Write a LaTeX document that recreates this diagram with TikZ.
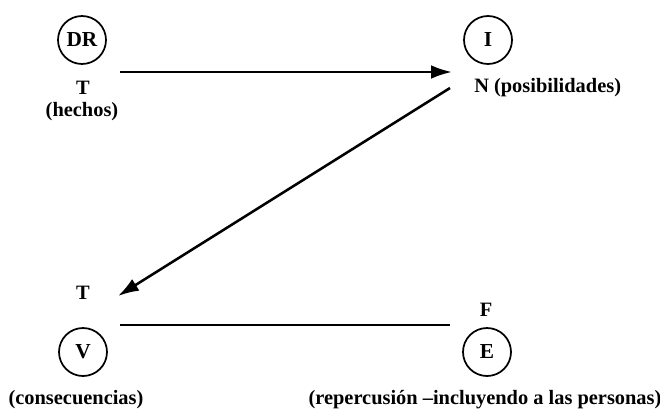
\documentclass[tikz,border=0pt]{standalone}
\usepackage{fontspec}
\setmainfont{Liberation Serif}
\usepackage{tikz}
\usetikzlibrary{positioning,arrows.meta}

\begin{document}
\begin{tikzpicture}[
  x=0.75pt, y=-0.75pt,
  % circled letters and the plain labels around them
  circ/.style={circle, draw, line width=1.3pt, minimum size=36pt, inner sep=0pt,
               font=\bfseries\fontsize{16}{18}\selectfont},
  lbl/.style={inner sep=0pt, font=\bfseries\fontsize{15.3}{18}\selectfont},
  arr/.style={-{Latex[length=5.5mm, width=3.6mm]}, line width=1.9pt},
  link/.style={line width=1.9pt}
]
\useasboundingbox (0,0) rectangle (660,411);

\node[circ] (dr) at (82,40) {DR};
\node[lbl] (drT) at (83,88) {T};
\node[lbl] (hechos) at (82,112) {(hechos)};

\node[circ] (i) at (488,40) {I};
\node[lbl, anchor=west] (posib) at (474,88) {N (posibilidades)};

\node[circ] (v) at (83,352) {V};
\node[lbl] (vT) at (83,293) {T};
\node[lbl] (consec) at (76,400) {(consecuencias)};

\node[circ] (e) at (487,352) {E};
\node[lbl] (eF) at (486,310) {F};
\node[lbl] (reperc) at (485,400) {(repercusión –incluyendo a las personas)};

\draw[arr] ([shift={(38,32)}]dr.center) -- ([shift={(-36,32)}]i.center);
\draw[arr] ([shift={(-38,48)}]i.center) -- ([shift={(35,-56)}]v.center);
\draw[link] ([shift={(37,-27)}]v.center) -- ([shift={(-37,-27)}]e.center);
\end{tikzpicture}
\end{document}
